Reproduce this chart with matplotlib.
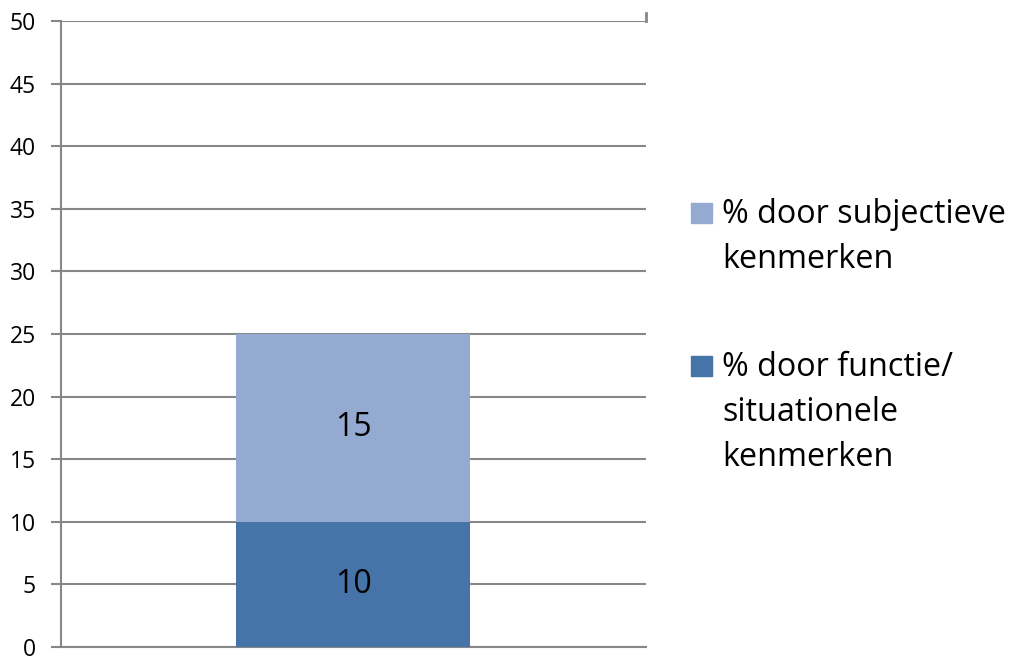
import matplotlib
matplotlib.use("Agg")
import matplotlib.pyplot as plt
from matplotlib.patches import Rectangle
from matplotlib.lines import Line2D

plt.rcParams['font.family'] = ['Open Sans', 'DejaVu Sans']

categories = [""]
functie = [10]
subjectief = [15]
legend_entries = [
    ("subjectief", ["% door subjectieve", "kenmerken"]),
    ("functie", ["% door functie/", "situationele", "kenmerken"]),
]
yticks = [0, 5, 10, 15, 20, 25, 30, 35, 40, 45, 50]

dark = "#4673A8"
light = "#95AAD0"
grid = "#878787"
colors = {"functie": dark, "subjectief": light}

W, H = 1010, 657
fig = plt.figure(figsize=(W / 100, H / 100), dpi=100)
ax = fig.add_axes([61 / W, 1 - 647 / H, (646 - 61) / W, (647 - 21) / H])

x = range(len(categories))
b1 = ax.bar(x, functie, width=0.4, color=dark, zorder=3)
b2 = ax.bar(x, subjectief, bottom=functie, width=0.4, color=light, zorder=3)
for bars, vals, bottoms in ((b1, functie, [0]), (b2, subjectief, functie)):
    for rect, v, b in zip(bars, vals, bottoms):
        ax.text(rect.get_x() + rect.get_width() / 2, b + v / 2, f"{v}",
                ha="center", va="center", fontsize=23, color="black", zorder=4)

ax.set_xlim(-0.5, 0.5)
ax.set_ylim(0, 50)
ax.set_yticks(yticks)
ax.set_xticks([])
ax.yaxis.grid(True, color=grid, linewidth=1.5, zorder=0)
ax.tick_params(axis="y", length=7, width=1.5, color=grid, labelsize=16.5, pad=11)
for s in ("top", "right"):
    ax.spines[s].set_visible(False)
for s in ("left", "bottom"):
    ax.spines[s].set_color(grid)
    ax.spines[s].set_linewidth(1.5)
# category boundary tick at the top right of the plot
ax.add_line(Line2D([0.5, 0.5], [50, 50.65], color=grid, lw=2, clip_on=False))

# legend: colour square followed by wrapped label lines
entry_tops = [203, 356]
line_gap = 45
for (key, lines), top in zip(legend_entries, entry_tops):
    fig.add_artist(Rectangle((691 / W, 1 - (top + 20) / H), 21 / W, 20 / H,
                             transform=fig.transFigure, color=colors[key]))
    for i, line in enumerate(lines):
        fig.text(722 / W, 1 - (top + 20 + i * line_gap) / H, line,
                 ha="left", va="baseline", fontsize=23.3, color="black")

fig.savefig("out.png", dpi=100)
